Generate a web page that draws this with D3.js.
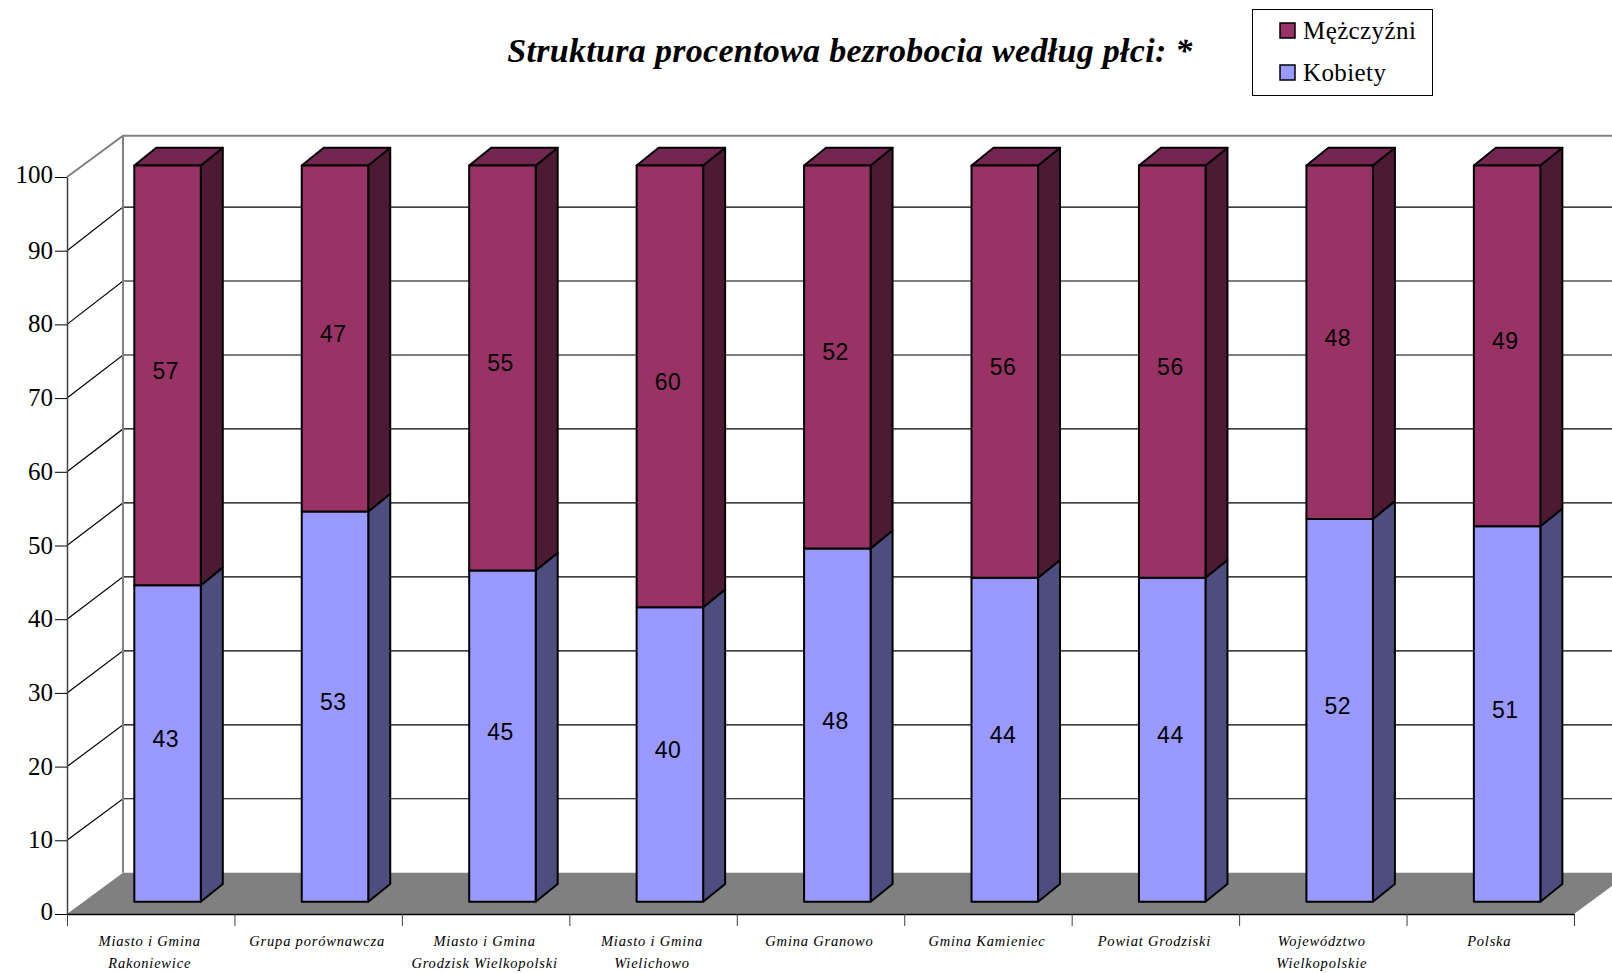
<!DOCTYPE html>
<meta charset="utf-8">

<style type="text/css">
  body {
    margin: 0;
    background: #fff;
    overflow: hidden;
  }

  svg {
    display: block;
  }

  text {
    font-family: "Liberation Serif", serif;
    fill: #000;
  }

  .title {
    font-size: 34px;
    font-weight: bold;
    font-style: italic;
    letter-spacing: 0.3px;
    text-anchor: middle;
  }

  .axis text {
    font-size: 25px;
  }

  .cat {
    font-size: 14.5px;
    font-style: italic;
    letter-spacing: 0.8px;
    text-anchor: middle;
  }

  .value {
    font-family: "Liberation Sans", sans-serif;
    font-size: 23px;
    letter-spacing: 0.5px;
    text-anchor: middle;
  }

  .legend text {
    font-size: 25px;
    letter-spacing: 0.4px;
  }
</style>

<body>
</body>

<script src="https://d3js.org/d3.v7.min.js"></script>
<script>
  var categories = [
    ["Miasto i Gmina", "Rakoniewice"],
    ["Grupa porównawcza"],
    ["Miasto i Gmina", "Grodzisk Wielkopolski"],
    ["Miasto i Gmina", "Wielichowo"],
    ["Gmina Granowo"],
    ["Gmina Kamieniec"],
    ["Powiat Grodziski"],
    ["Województwo", "Wielkopolskie"],
    ["Polska"]
  ];
  var kobiety = [43, 53, 45, 40, 48, 44, 44, 52, 51];
  var mezczyzni = [57, 47, 55, 60, 52, 56, 56, 48, 49];
  var yTicks = [0, 10, 20, 30, 40, 50, 60, 70, 80, 90, 100];
  var seriesNames = ["Kobiety", "Mężczyźni"];

  var width = 1612,
    height = 973,
    left = 67,
    right = 1574,
    bottom = 914,
    top100 = 177,
    depthX = 56,
    barW = 66.5,
    barDX = 22,
    barDY = 17.8;

  var colors = {
    "Kobiety": { front: "#9999ff", side: "#4d4d80" },
    "Mężczyźni": { front: "#993366", side: "#4d1a33", top: "#732650" }
  };

  var rows = categories.map(function(c, i) {
    return { i: i, "Kobiety": kobiety[i], "Mężczyźni": mezczyzni[i] };
  });
  var stacked = d3.stack().keys(seriesNames)(rows);

  var x = d3.scaleBand().domain(d3.range(categories.length)).range([left, right]);
  var xTick = d3.scaleLinear().domain([0, categories.length]).range([left, right]);
  var y = d3.scaleLinear().domain([0, 100]).range([bottom, top100]);
  var yBack = d3.scaleLinear().domain([0, 100]).range([872.7, 133.1]);
  var yBar = d3.scaleLinear().domain([0, 100]).range([901.8, 165.5]); // bars stand a bit behind the axis

  var svg = d3.select("body")
    .append("svg")
    .attr("width", width)
    .attr("height", height);

  function poly(pts) {
    return pts.map(function(p) { return p.join(","); }).join(" ");
  }

  // floor
  svg.append("polygon")
    .attr("points", poly([[left, bottom], [left + depthX, yBack(0)], [right + depthX, yBack(0)], [right, bottom]]))
    .attr("fill", "#808080");

  // gridlines on side wall and back wall
  var grid = svg.append("g");
  yTicks.slice(1, -1).forEach(function(t) {
    grid.append("path")
      .attr("d", "M" + left + "," + y(t) + "L" + (left + depthX) + "," + yBack(t) + "H" + width)
      .attr("fill", "none")
      .attr("stroke", "#000")
      .attr("stroke-width", 1.2);
  });

  // walls
  svg.append("path")
    .attr("d", "M" + left + "," + y(100) + "L" + (left + depthX) + "," + 135.7 + "H" + width)
    .attr("fill", "none")
    .attr("stroke", "#808080")
    .attr("stroke-width", 2);
  svg.append("line")
    .attr("x1", left + depthX).attr("x2", left + depthX)
    .attr("y1", 135.7).attr("y2", yBack(0))
    .attr("stroke", "#808080")
    .attr("stroke-width", 2);

  // bars
  var bars = svg.append("g")
    .attr("stroke", "#000")
    .attr("stroke-width", 2)
    .attr("stroke-linejoin", "round");

  rows.forEach(function(r, i) {
    var x0 = x(i) + 67.3,
      x1 = x0 + barW;
    stacked.forEach(function(s) {
      var d = s[i],
        c = colors[s.key],
        y0 = yBar(d[0]),
        y1 = yBar(d[1]);
      bars.append("polygon")
        .attr("points", poly([[x1, y0], [x1 + barDX, y0 - barDY], [x1 + barDX, y1 - barDY], [x1, y1]]))
        .attr("fill", c.side);
      if (c.top) {
        bars.append("polygon")
          .attr("points", poly([[x0, y1], [x0 + barDX, y1 - barDY], [x1 + barDX, y1 - barDY], [x1, y1]]))
          .attr("fill", c.top);
      }
      bars.append("rect")
        .attr("x", x0)
        .attr("y", y1)
        .attr("width", barW)
        .attr("height", y0 - y1)
        .attr("fill", c.front);
      svg.append("text")
        .attr("class", "value")
        .attr("x", x0 + barW / 2 - 1.8)
        .attr("y", (y0 + y1) / 2 + 3.5)
        .text(d[1] - d[0]);
    });
  });

  // axes
  var yAxis = svg.append("g")
    .attr("class", "axis")
    .attr("transform", "translate(" + left + ",0)")
    .call(d3.axisLeft(y).tickValues(yTicks).tickSize(12).tickSizeOuter(0).tickPadding(2));
  yAxis.select(".domain").attr("stroke", "#404040").attr("stroke-width", 1.5);
  yAxis.selectAll(".tick text")
    .attr("y", function(d) { return d === 0 || d === 100 ? -2.5 : -0.5; });

  var xAxis = svg.append("g")
    .attr("transform", "translate(0," + bottom + ")")
    .call(d3.axisBottom(xTick).ticks(categories.length).tickSize(12).tickSizeOuter(0).tickFormat(""));
  xAxis.select(".domain").attr("stroke", "#000").attr("stroke-width", 1.5);
  xAxis.selectAll(".tick line").attr("stroke", "#404040");

  // category labels
  categories.forEach(function(lines, i) {
    lines.forEach(function(l, j) {
      svg.append("text")
        .attr("class", "cat")
        .attr("x", x(i) + x.bandwidth() / 2 - 1)
        .attr("y", 946 + j * 22)
        .text(l);
    });
  });

  svg.append("text")
    .attr("class", "title")
    .attr("x", 850)
    .attr("y", 62)
    .text("Struktura procentowa bezrobocia według płci: *");

  // legend
  var legend = svg.append("g").attr("class", "legend");
  legend.append("rect")
    .attr("x", 1252.5).attr("y", 9.5)
    .attr("width", 180).attr("height", 86)
    .attr("fill", "#fff")
    .attr("stroke", "#000");
  seriesNames.slice().reverse().forEach(function(name, i) {
    var ly = 30.5 + i * 42;
    legend.append("rect")
      .attr("x", 1280).attr("y", ly - 7.5)
      .attr("width", 15).attr("height", 15)
      .attr("fill", colors[name].front)
      .attr("stroke", "#000")
      .attr("stroke-width", 1.5);
    legend.append("text")
      .attr("x", 1303)
      .attr("y", ly + 8)
      .text(name);
  });
</script>
